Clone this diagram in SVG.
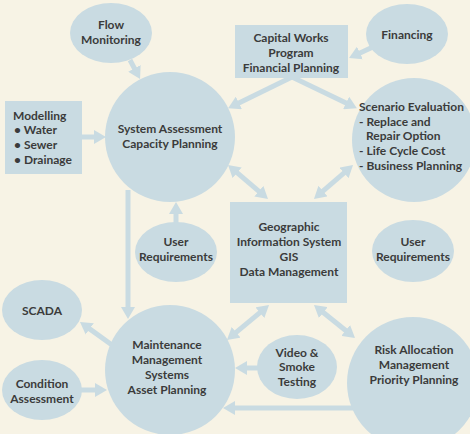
<svg xmlns="http://www.w3.org/2000/svg" width="470" height="434" viewBox="0 0 470 434">
<defs>
<style>
.n{fill:#c9dbe2}
.t{font-family:Lato,"Open Sans","Liberation Sans",sans-serif;font-weight:bold;font-size:12px;fill:#3b3b3b}
.c{text-anchor:middle}
.a{stroke:#c9dbe2;stroke-width:5;fill:none}
.e{marker-end:url(#h)}
.d{marker-end:url(#h);marker-start:url(#h)}
</style>
<marker id="h" markerUnits="userSpaceOnUse" markerWidth="12" markerHeight="14" refX="4" refY="7" orient="auto-start-reverse" viewBox="0 0 12 14">
<path d="M0,0 L12,7 L0,14 z" fill="#c9dbe2"/>
</marker>
</defs>
<rect width="470" height="434" fill="#f7f3e5"/>
<g id="connectors">
<line class="a e" x1="130" y1="60" x2="136.3" y2="71.9"/>
<line class="a e" x1="80" y1="137" x2="98" y2="137"/>
<line class="a e" x1="375" y1="46" x2="356.3" y2="54.7"/>
<line class="a e" x1="292" y1="77" x2="235.3" y2="104.7"/>
<line class="a e" x1="292" y1="77" x2="349.7" y2="104.7"/>
<line class="a d" x1="234.1" y1="170.2" x2="261.9" y2="193.8"/>
<line class="a d" x1="347" y1="170.3" x2="320" y2="193.7"/>
<line class="a e" x1="176" y1="224" x2="176" y2="210"/>
<line class="a e" x1="128" y1="190" x2="128" y2="311"/>
<line class="a e" x1="112" y1="345" x2="86.5" y2="326.6"/>
<line class="a e" x1="80" y1="390" x2="99" y2="390"/>
<line class="a d" x1="262.9" y1="310.1" x2="233.1" y2="334.9"/>
<line class="a d" x1="320.2" y1="310" x2="348.8" y2="333"/>
<line class="a e" x1="259" y1="368" x2="243" y2="368"/>
<line class="a e" x1="362" y1="408" x2="231" y2="408"/>
</g>
<g id="flow"><ellipse class="n" cx="111" cy="33" rx="41" ry="30"/><text class="t c" x="111" y="29">Flow</text><text class="t c" x="111" y="44">Monitoring</text></g>
<g id="modelling"><rect class="n" x="5" y="101" width="77" height="73"/><text class="t" x="13" y="120">Modelling</text><text class="t" x="14" y="134">• Water</text><text class="t" x="14" y="149">• Sewer</text><text class="t" x="14" y="164">• Drainage</text></g>
<g id="system"><circle class="n" cx="170" cy="137" r="65"/><text class="t c" x="170" y="133">System Assessment</text><text class="t c" x="170" y="148">Capacity Planning</text></g>
<g id="capital"><rect class="n" x="235" y="25" width="113" height="53"/><text class="t c" x="291" y="42">Capital Works</text><text class="t c" x="291" y="57">Program</text><text class="t c" x="291" y="72">Financial Planning</text></g>
<g id="financing"><ellipse class="n" cx="407" cy="34" rx="41" ry="30"/><text class="t c" x="407" y="39">Financing</text></g>
<g id="scenario"><circle class="n" cx="414" cy="140" r="62"/><text class="t" x="359" y="111">Scenario Evaluation</text><text class="t" x="359" y="126">- Replace and</text><text class="t" x="366" y="140">Repair Option</text><text class="t" x="359" y="155">- Life Cycle Cost</text><text class="t" x="359" y="170">- Business Planning</text></g>
<g id="gis"><rect class="n" x="230" y="202" width="117" height="101"/><text class="t c" x="289" y="231">Geographic</text><text class="t c" x="289" y="246">Information System</text><text class="t c" x="289" y="261">GIS</text><text class="t c" x="289" y="276">Data Management</text></g>
<g id="user1"><ellipse class="n" cx="176" cy="252" rx="41" ry="30"/><text class="t c" x="176" y="246">User</text><text class="t c" x="176" y="261">Requirements</text></g>
<g id="user2"><ellipse class="n" cx="413" cy="251" rx="41" ry="31"/><text class="t c" x="413" y="246">User</text><text class="t c" x="413" y="261">Requirements</text></g>
<g id="scada"><ellipse class="n" cx="42" cy="310" rx="40" ry="30"/><text class="t c" x="42" y="315">SCADA</text></g>
<g id="condition"><ellipse class="n" cx="42" cy="390" rx="40" ry="30"/><text class="t c" x="42" y="388">Condition</text><text class="t c" x="42" y="403">Assessment</text></g>
<g id="maintenance"><circle class="n" cx="170" cy="370" r="65"/><text class="t c" x="167" y="349">Maintenance</text><text class="t c" x="167" y="364">Management</text><text class="t c" x="167" y="379">Systems</text><text class="t c" x="167" y="394">Asset Planning</text></g>
<g id="video"><ellipse class="n" cx="297" cy="367" rx="40" ry="32"/><text class="t c" x="297" y="357">Video &amp;</text><text class="t c" x="297" y="371">Smoke</text><text class="t c" x="297" y="386">Testing</text></g>
<g id="risk"><circle class="n" cx="413" cy="383" r="66"/><text class="t c" x="414" y="354">Risk Allocation</text><text class="t c" x="414" y="369">Management</text><text class="t c" x="414" y="384">Priority Planning</text></g>
</svg>
